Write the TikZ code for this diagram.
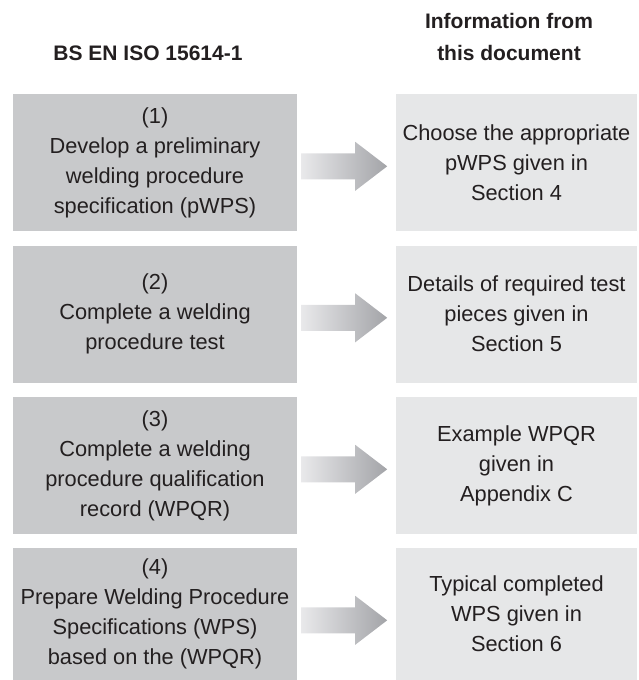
\documentclass[tikz,border=0pt]{standalone}
\usepackage{fontspec}
\setmainfont{Liberation Sans}
\usepackage{xcolor}
\usepackage{tikz}

\definecolor{stepgray}{HTML}{C8C9CB}
\definecolor{infogray}{HTML}{E6E7E8}
\definecolor{inkgray}{HTML}{231F20}
\definecolor{arrowlight}{HTML}{ECECEE}
\definecolor{arrowdark}{HTML}{A3A4A8}

\tikzset{
    stepbox/.style={fill=stepgray, minimum width=284pt, minimum height=137pt, inner sep=0pt,
        align=center, text=inkgray, font=\fontsize{21.8}{30}\selectfont},
    infobox/.style={stepbox, fill=infogray, minimum width=241pt},
    heading/.style={text=inkgray, align=center, inner sep=0pt, font=\bfseries\fontsize{21}{32}\selectfont},
    blockarrow/.style={left color=arrowlight, right color=arrowdark, draw=none}
}

\begin{document}
\begin{tikzpicture}[x=1pt, y=-1pt]
    \useasboundingbox (0,0) rectangle (638,680);

    % Spaltenueberschriften
    \node[heading, anchor=base] (headL) at (148,60) {BS EN ISO 15614-1};
    \node[heading, anchor=base] (headR) at (509,60) {Information from\\this document};

    % linke Spalte: Schritte nach der Norm
    \node[stepbox] (s1) at (155,162.5) {(1)\\Develop a preliminary\\welding procedure\\specification (pWPS)};
    \node[stepbox] (s2) at (155,314) {(2)\\Complete a welding\\procedure test};
    \node[stepbox] (s3) at (155,465.5) {(3)\\Complete a welding\\procedure qualification\\record (WPQR)};
    \node[stepbox, minimum height=132pt] (s4) at (155,614) {(4)\\Prepare Welding Procedure\\Specifications (WPS)\\based on the (WPQR)};

    % rechte Spalte: Verweise
    \node[infobox] (i1) at (516.5,162.5) {Choose the appropriate\\pWPS given in\\Section 4};
    \node[infobox] (i2) at (516.5,314) {Details of required test\\pieces given in\\Section 5};
    \node[infobox] (i3) at (516.5,465.5) {Example WPQR\\given in\\Appendix C};
    \node[infobox, minimum height=132pt] (i4) at (516.5,614) {Typical completed\\WPS given in\\Section 6};

    % Blockpfeile
    \foreach \k in {1,...,4}
        \shade[blockarrow] (s\k.north east) ++(4,59.5) -- ++(54,0) -- ++(0,-11.5)
            -- ++(32,24.5) -- ++(-32,24.5) -- ++(0,-11.5) -- ++(-54,0) -- cycle;
\end{tikzpicture}
\end{document}
